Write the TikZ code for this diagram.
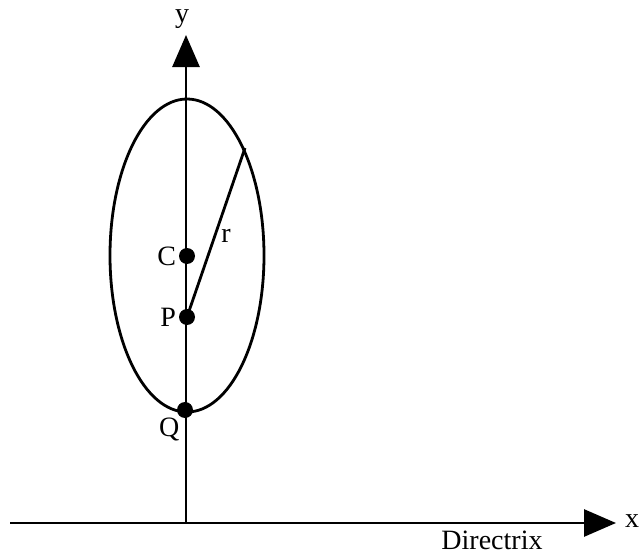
\documentclass[tikz,border=0pt]{standalone}
\usepackage{fontspec}
\setmainfont{Liberation Serif}
\usepackage{tikz}
\usetikzlibrary{positioning,calc,arrows.meta}

\begin{document}
\begin{tikzpicture}[x=1pt,y=-1pt,
  every node/.style={inner sep=0pt,outer sep=0pt,font=\fontsize{28}{30}\selectfont},
  axis/.style={line width=2.8pt,-{Triangle[length=32pt,width=27pt]}},
  curve/.style={line width=2.8pt},
  dot/.style={circle,fill=black,minimum size=16pt}]
\useasboundingbox (0,0) rectangle (641,554);
% AXES: the directrix along x, the symmetry axis along y
\coordinate (xstart) at (10,523);
\coordinate (xend) at (616,523);
\coordinate (ybase) at (186,523);
\coordinate (yend) at (186,35);
\draw[axis] (xstart) -- (xend);
\draw[axis] (ybase) -- (yend);
\node (xlab) at (632,521) {x};
\node (ylab) at (182,19) {y};
\node (dirlab) at (492,540) {Directrix};
% ELLIPSE round the focus P
\draw[curve] (187,255.5) ellipse [x radius=77, y radius=156.5];
% POINTS on the axis: centre, focus, vertex
\node[dot] (C) at (187,256) {};
\node[dot] (P) at (187,317) {};
\node[dot] (Q) at (185,410) {};
\node[left=3pt of C] (Clab) {C};
\node[left=3pt of P] (Plab) {P};
\node[below left=2pt and 0pt of Q] (Qlab) {Q};
% RADIUS from the focus to the ellipse
\coordinate (rend) at (245,148);
\draw[curve] (P.center) -- (rend);
\node (rlab) at (226,236) {r};
\end{tikzpicture}
\end{document}
